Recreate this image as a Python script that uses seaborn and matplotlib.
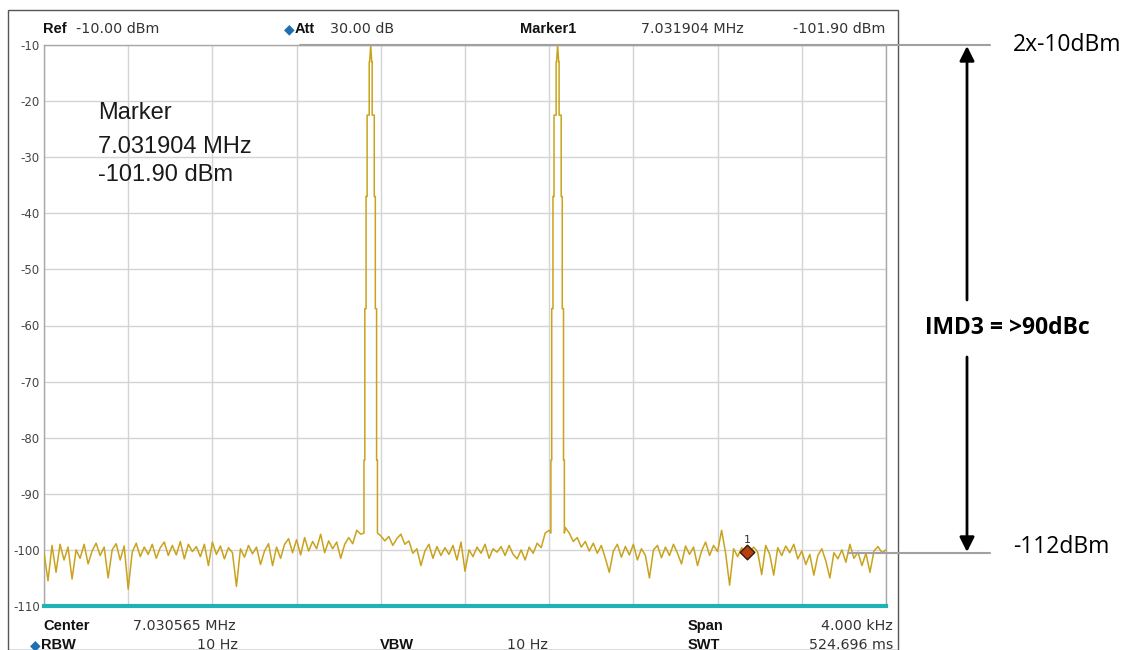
import numpy as np
import pandas as pd
import matplotlib.pyplot as plt
import seaborn as sns
from matplotlib.patches import Rectangle
from matplotlib.lines import Line2D

# ---------------------------------------------------------------------
# sweep settings (as shown on the analyzer screen)
# ---------------------------------------------------------------------
center_mhz = 7.030565
span_hz = 4000
ref_db = -10
bottom_db = -110
y_ticks = [-10, -20, -30, -40, -50, -60, -70, -80, -90, -100, -110]

# the two tones, offset from sweep start (Hz)
tone_offsets_hz = [1552, 2440]

# shape of each tone (offset from tone centre, Hz / level, dBm)
peak_offset_hz = [-32, -32, -28, -28, -22, -22, -17, -17, -7, -7, -5, 0,
                  5, 7, 7, 17, 17, 22, 22, 28, 28, 32, 32]
peak_level_db = [-97, -84, -84, -57, -57, -37, -37, -22.5, -22.5, -13, -13, -10,
                 -13, -13, -22.5, -22.5, -37, -37, -57, -57, -84, -84, -97]

# noise floor, read across the full span (left to right)
noise_db = [
    -100.5, -105.5, -99.2, -104.0, -99.0, -101.8, -99.5, -105.2, -100.0, -101.5,
    -99.0, -102.5, -100.2, -98.8, -101.0, -99.5, -105.0, -100.0, -98.9, -101.8,
    -99.3, -107.0, -100.4, -98.8, -101.2, -99.5, -100.8, -99.0, -101.5, -99.6,
    -98.6, -101.0, -99.2, -100.9, -98.5, -101.6, -99.0, -100.3, -99.4, -101.2,
    -99.0, -102.8, -98.6, -100.8, -99.3, -101.6, -99.6, -100.5, -106.5, -99.8,
    -101.3, -99.2, -100.7, -99.5, -102.6, -100.2, -98.9, -102.8, -99.5, -101.5,
    -99.0, -98.0, -100.5, -98.2, -100.9, -97.8, -100.2, -98.5, -99.8, -97.2,
    -100.5, -98.4, -99.8, -98.6, -101.5, -99.0, -97.8, -98.9, -96.5, -97.2,
    -98.0, -97.0, -97.0, -97.0, -97.5, -98.4, -97.6, -99.2, -98.0, -97.2,
    -99.0, -98.4, -100.6, -99.8, -102.8, -100.2, -99.0, -101.5, -99.4, -101.0,
    -99.6, -100.8, -99.2, -101.8, -98.6, -103.8, -100.0, -101.2, -99.5, -100.6,
    -99.0, -101.5, -99.8, -100.4, -99.4, -101.0, -99.2, -100.8, -101.6, -100.0,
    -101.8, -99.5, -100.6, -98.8, -99.6, -97.0, -96.5, -97.0, -97.0, -97.0,
    -96.0, -97.0, -98.5, -97.8, -99.5, -98.5, -100.2, -98.8, -100.6, -99.2,
    -101.5, -104.0, -100.2, -99.0, -101.3, -99.4, -100.9, -99.0, -101.8, -99.8,
    -101.0, -105.0, -100.0, -99.2, -101.4, -99.5, -101.0, -99.0, -100.6, -102.5,
    -99.3, -100.8, -99.5, -102.8, -100.2, -98.6, -101.0, -99.2, -100.3, -96.5,
    -100.6, -106.3, -99.8, -101.2, -99.6, -100.9, -100.4, -99.5, -100.4, -104.4,
    -99.2, -100.8, -104.5, -99.6, -101.0, -99.3, -100.5, -99.0, -101.6, -100.2,
    -102.6, -100.8, -104.5, -101.0, -99.8, -102.0, -105.0, -100.5, -101.6, -100.0,
    -102.2, -99.0, -101.5, -100.4, -102.8, -100.6, -104.0, -100.2, -99.4, -100.5,
    -100.0,
]

# marker 1
marker_mhz = 7.031904
marker_db = -100.4   # where the diamond sits on screen

# ---------------------------------------------------------------------
# build trace
# ---------------------------------------------------------------------
start_mhz = center_mhz - span_hz / 2 / 1e6
noise = pd.DataFrame({'f': np.linspace(0, span_hz, len(noise_db)), 'db': noise_db, 'k': 0})
for t in tone_offsets_hz:
    noise = noise[(noise['f'] - t).abs() > 34]
parts = [noise]
for t in tone_offsets_hz:
    parts.append(pd.DataFrame({'f': t + np.array(peak_offset_hz), 'db': peak_level_db,
                               'k': np.arange(len(peak_offset_hz))}))
trace = pd.concat(parts).sort_values(['f', 'k'], kind='stable').reset_index(drop=True)

# ---------------------------------------------------------------------
# plot
# ---------------------------------------------------------------------
sns.set_style('white')
plt.rcParams['font.family'] = ['DejaVu Sans']

W, H = 1122, 650
fig = plt.figure(figsize=(W / 100, H / 100), dpi=100)


def fx(x):
    return x / W


def fy(y):
    return 1 - y / H


ax = fig.add_axes([fx(44), fy(606), fx(886) - fx(44), fy(45) - fy(606)])

sns.lineplot(data=trace, x='f', y='db', estimator=None, sort=False,
             color='#c9a31c', lw=1.1, ax=ax, zorder=3)

ax.set_xlim(0, span_hz)
ax.set_ylim(bottom_db, ref_db)
ax.set_xticks(np.linspace(0, span_hz, 11))
ax.set_xticklabels([])
ax.set_yticks(y_ticks)
ax.set_yticklabels([str(v) for v in y_ticks], fontsize=8.5, color='#444444')
ax.tick_params(axis='y', length=2, pad=1, color='#888888')
ax.tick_params(axis='x', length=0)
ax.grid(True, color='#d4d4d4', lw=1)
ax.set_xlabel('')
ax.set_ylabel('')
for s in ['left', 'top', 'right']:
    ax.spines[s].set_color('#a8a8a8')
    ax.spines[s].set_linewidth(1)
ax.spines['bottom'].set_color('#1fb3b8')
ax.spines['bottom'].set_linewidth(3)

# marker diamond
m_off = (marker_mhz - start_mhz) * 1e6
ax.scatter([m_off], [marker_db], marker='D', s=55, color='#b8400c',
           edgecolor='#3a1800', lw=1, zorder=6)
ax.text(m_off, marker_db + 1.2, '1', ha='center', va='bottom', fontsize=8, color='#333333', zorder=6)

# marker readout inside plot
readout = dict(transform=ax.transAxes, fontsize=17, family='Liberation Sans', va='center',
               color='#1a1a1a')
ax.text((98 - 44) / 842, (606 - 113) / 561, 'Marker', **readout)
ax.text((98 - 44) / 842, (606 - 147) / 561, f'{marker_mhz:.6f} MHz', **readout)
ax.text((98 - 44) / 842, (606 - 175) / 561, '-101.90 dBm', **readout)

# screen frame
fig.add_artist(Rectangle((fx(8), 0), fx(898) - fx(8), fy(10), transform=fig.transFigure,
                         fill=False, edgecolor='#555555', lw=1))

# header row
hdr = dict(fontsize=10.3, va='center', color='#333333')
bold = dict(fontsize=10.5, va='center', color='#111111', fontweight='bold', family='Liberation Sans')
fig.text(fx(43), fy(29), 'Ref', **bold)
fig.text(fx(76), fy(29), f'{ref_db:.2f} dBm', **hdr)
fig.text(fx(284), fy(29), '◆', fontsize=10, va='center', color='#1f6fb0')
fig.text(fx(295), fy(29), 'Att', **bold)
fig.text(fx(330), fy(29), '30.00 dB', **hdr)
fig.text(fx(520), fy(29), 'Marker1', **bold)
fig.text(fx(641), fy(29), f'{marker_mhz:.6f} MHz', **hdr)
fig.text(fx(885), fy(29), '-101.90 dBm', ha='right', **hdr)

# footer rows
fig.text(fx(43), fy(626), 'Center', **bold)
fig.text(fx(133), fy(626), f'{center_mhz:.6f} MHz', **hdr)
fig.text(fx(30), fy(645), '◆', fontsize=10, va='center', color='#1f6fb0')
fig.text(fx(41), fy(645), 'RBW', **bold)
fig.text(fx(197), fy(645), '10 Hz', **hdr)
fig.text(fx(380), fy(645), 'VBW', **bold)
fig.text(fx(507), fy(645), '10 Hz', **hdr)
fig.text(fx(688), fy(626), 'Span', **bold)
fig.text(fx(893), fy(626), f'{span_hz / 1000:.3f} kHz', ha='right', **hdr)
fig.text(fx(688), fy(645), 'SWT', **bold)
fig.text(fx(893), fy(645), '524.696 ms', ha='right', **hdr)

# IMD3 annotation to the right of the screen
fig.add_artist(Line2D([fx(300), fx(990)], [fy(45), fy(45)], transform=fig.transFigure,
                      color='#a0a0a0', lw=1.5))
fig.add_artist(Line2D([fx(848), fx(990)], [fy(553), fy(553)], transform=fig.transFigure,
                      color='#a0a0a0', lw=1.5))
arrow = dict(arrowstyle='-|>', color='black', lw=2, mutation_scale=22, shrinkA=0, shrinkB=0)
fig.add_artist(plt.Annotation('', xy=(fx(967), fy(46)), xytext=(fx(967), fy(300)),
                              xycoords='figure fraction', arrowprops=arrow))
fig.add_artist(plt.Annotation('', xy=(fx(967), fy(552)), xytext=(fx(967), fy(357)),
                              xycoords='figure fraction', arrowprops=arrow))
ann = dict(fontsize=16.5, va='center', family='Open Sans', color='black')
fig.text(fx(1013), fy(45), '2x-10dBm', **ann)
fig.text(fx(1013), fy(547), '-112dBm', **ann)
fig.text(fx(1007), fy(328), 'IMD3 = >90dBc', ha='center', fontsize=16.5, va='center',
         family='Open Sans', fontweight='bold', color='black')

fig.savefig('out.png', dpi=100)
